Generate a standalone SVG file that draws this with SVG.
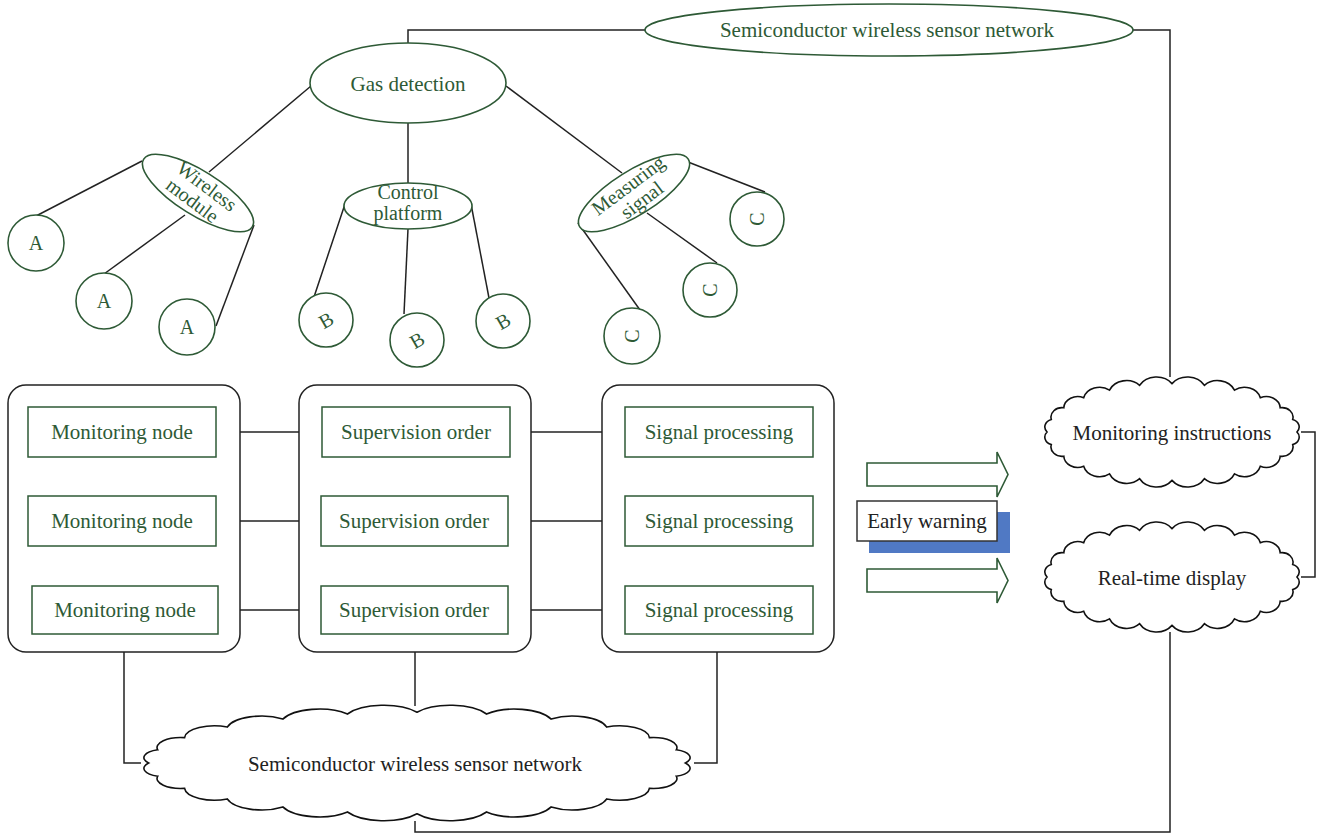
<svg xmlns="http://www.w3.org/2000/svg" xmlns:xlink="http://www.w3.org/1999/xlink" width="1327" height="838" viewBox="0 0 1327 838">
<style>
.g{fill:#fff;stroke:#2e5a36;stroke-width:1.6}
.gt{font-family:"Liberation Serif",serif;font-size:21px;fill:#2e5a36;text-anchor:middle}
.kt{font-family:"Liberation Serif",serif;font-size:21px;fill:#222;text-anchor:middle}
.ct{font-family:"Liberation Serif",serif;font-size:20px;fill:#2e5a36;text-anchor:middle}
.lt{font-family:"Liberation Serif",serif;font-size:20px;fill:#2e5a36;text-anchor:middle}
.ln{fill:none;stroke:#222;stroke-width:1.5}
.box{fill:#fff;stroke:#2e5a36;stroke-width:1.5}
.cont{fill:#fff;stroke:#222;stroke-width:1.5}
.cl{fill:#fff;stroke:#111;stroke-width:1.6;vector-effect:non-scaling-stroke}
</style>
<defs>
<path id="cloud" class="cl" d="M88,0 A6.5,6.5 0 0 1 85,10.4 A7.8,7.8 0 0 1 76.2,20 A9.8,9.8 0 0 1 62.2,28.3 A11.6,11.6 0 0 1 44,34.6 A13,13 0 0 1 22.8,38.6 A13.7,13.7 0 0 1 0,40 A13.7,13.7 0 0 1 -22.8,38.6 A13,13 0 0 1 -44,34.6 A11.6,11.6 0 0 1 -62.2,28.3 A9.8,9.8 0 0 1 -76.2,20 A7.8,7.8 0 0 1 -85,10.4 A6.5,6.5 0 0 1 -88,0 A6.5,6.5 0 0 1 -85,-10.4 A7.8,7.8 0 0 1 -76.2,-20 A9.8,9.8 0 0 1 -62.2,-28.3 A11.6,11.6 0 0 1 -44,-34.6 A13,13 0 0 1 -22.8,-38.6 A13.7,13.7 0 0 1 0,-40 A13.7,13.7 0 0 1 22.8,-38.6 A13,13 0 0 1 44,-34.6 A11.6,11.6 0 0 1 62.2,-28.3 A9.8,9.8 0 0 1 76.2,-20 A7.8,7.8 0 0 1 85,-10.4 A6.5,6.5 0 0 1 88,0 Z"/>
</defs>
<rect width="1327" height="838" fill="#fff"/>

<g id="connectors" class="ln">
<polyline points="646,30 408,30 408,44"/>
<polyline points="1133,30 1170,30 1170,377"/>
<line x1="311" y1="86" x2="209" y2="172"/>
<line x1="408" y1="123" x2="408" y2="184"/>
<line x1="506" y1="86" x2="622" y2="173"/>
<line x1="142" y1="161" x2="36" y2="216"/>
<line x1="185" y1="215" x2="104" y2="274"/>
<line x1="254" y1="225" x2="216" y2="326"/>
<line x1="345" y1="204" x2="314" y2="297"/>
<line x1="408" y1="229" x2="404" y2="314"/>
<line x1="471" y1="204" x2="489" y2="298"/>
<line x1="688" y1="162" x2="765" y2="192"/>
<line x1="647" y1="213" x2="717" y2="263"/>
<line x1="578" y1="223" x2="640" y2="310"/>
<line x1="216" y1="432" x2="322" y2="432"/>
<line x1="510" y1="432" x2="625" y2="432"/>
<line x1="216" y1="521" x2="322" y2="521"/>
<line x1="508" y1="521" x2="625" y2="521"/>
<line x1="218" y1="610" x2="322" y2="610"/>
<line x1="508" y1="610" x2="625" y2="610"/>
<polyline points="124,652 124,763 141,763"/>
<line x1="415" y1="652" x2="415" y2="706"/>
<polyline points="717,652 717,763 694,763"/>
<polyline points="415,821 415,832 1170,832 1170,632"/>
<polyline points="1301,432 1315,432 1315,577 1301,577"/>
</g>

<g id="top-network">
<ellipse class="g" cx="889" cy="30" rx="244" ry="26"/>
<text class="gt" x="887" y="37" font-size="20">Semiconductor wireless sensor network</text>
</g>
<g id="gas-detection">
<ellipse class="g" cx="408" cy="83" rx="98" ry="40"/>
<text class="gt" x="408" y="91">Gas detection</text>
</g>
<g id="wireless-module">
<ellipse class="g" cx="0" cy="0" rx="64" ry="22" transform="translate(198,193) rotate(32)"/>
<g transform="translate(198,193) rotate(37)">
<text class="ct" x="3" y="-4">Wireless</text>
<text class="ct" x="0" y="16">module</text>
</g>
</g>
<g id="control-platform">
<ellipse class="g" cx="408" cy="206" rx="64" ry="23"/>
<text class="ct" x="408" y="199">Control</text>
<text class="ct" x="408" y="220">platform</text>
</g>
<g id="measuring-signal">
<ellipse class="g" cx="0" cy="0" rx="64" ry="22" transform="translate(634,193) rotate(-32)"/>
<g transform="translate(634,193) rotate(-37)">
<text class="ct" x="0" y="-3">Measuring</text>
<text class="ct" x="2" y="17">signal</text>
</g>
</g>

<g id="a1"><circle class="g" cx="36" cy="243" r="28"/><text class="lt" x="36" y="250">A</text></g>
<g id="a2"><circle class="g" cx="104" cy="301" r="28"/><text class="lt" x="104" y="308">A</text></g>
<g id="a3"><circle class="g" cx="187" cy="327" r="28"/><text class="lt" x="187" y="334">A</text></g>
<g id="b1"><circle class="g" cx="326" cy="320" r="27"/><text class="lt" transform="translate(326,320) rotate(-30)" x="0" y="7">B</text></g>
<g id="b2"><circle class="g" cx="417" cy="340" r="27"/><text class="lt" transform="translate(417,340) rotate(-30)" x="0" y="7">B</text></g>
<g id="b3"><circle class="g" cx="503" cy="321" r="27"/><text class="lt" transform="translate(503,321) rotate(-30)" x="0" y="7">B</text></g>
<g id="c1"><circle class="g" cx="632" cy="336" r="28"/><text class="lt" transform="translate(632,336) rotate(-90)" x="0" y="7">C</text></g>
<g id="c2"><circle class="g" cx="710" cy="290" r="27"/><text class="lt" transform="translate(710,290) rotate(-90)" x="0" y="7">C</text></g>
<g id="c3"><circle class="g" cx="757" cy="219" r="27"/><text class="lt" transform="translate(757,219) rotate(-90)" x="0" y="7">C</text></g>

<g id="container-monitoring">
<rect class="cont" x="8" y="385" width="232" height="267" rx="18"/>
<g id="mn1"><rect class="box" x="28" y="407" width="188" height="50"/><text class="gt" x="122" y="439">Monitoring node</text></g>
<g id="mn2"><rect class="box" x="28" y="496" width="188" height="50"/><text class="gt" x="122" y="528">Monitoring node</text></g>
<g id="mn3"><rect class="box" x="32" y="586" width="186" height="48"/><text class="gt" x="125" y="617">Monitoring node</text></g>
</g>
<g id="container-supervision">
<rect class="cont" x="299" y="385" width="232" height="267" rx="18"/>
<g id="so1"><rect class="box" x="322" y="407" width="188" height="50"/><text class="gt" x="416" y="439">Supervision order</text></g>
<g id="so2"><rect class="box" x="321" y="496" width="187" height="50"/><text class="gt" x="414" y="528">Supervision order</text></g>
<g id="so3"><rect class="box" x="321" y="586" width="187" height="48"/><text class="gt" x="414" y="617">Supervision order</text></g>
</g>
<g id="container-signal">
<rect class="cont" x="602" y="385" width="232" height="267" rx="18"/>
<g id="sp1"><rect class="box" x="625" y="407" width="188" height="50"/><text class="gt" x="719" y="439">Signal processing</text></g>
<g id="sp2"><rect class="box" x="625" y="496" width="188" height="50"/><text class="gt" x="719" y="528">Signal processing</text></g>
<g id="sp3"><rect class="box" x="625" y="586" width="188" height="48"/><text class="gt" x="719" y="617">Signal processing</text></g>
</g>

<g id="arrows">
<path class="g" d="M867,463 H997 V452 L1008,474.5 L997,497 V486 H867 Z"/>
<path class="g" d="M867,569 H997 V558 L1008,580.5 L997,603 V592 H867 Z"/>
</g>
<g id="early-warning">
<rect x="869" y="512" width="141" height="41" fill="#5079c4"/>
<rect x="857" y="501" width="140" height="40" fill="#fff" stroke="#333" stroke-width="1.5"/>
<text class="kt" x="927" y="528">Early warning</text>
</g>

<g id="bottom-network">
<use xlink:href="#cloud" href="#cloud" transform="translate(417,763) scale(3.05,1.27)"/>
<text class="kt" x="415" y="771">Semiconductor wireless sensor network</text>
</g>
<g id="monitoring-instructions">
<use xlink:href="#cloud" href="#cloud" transform="translate(1172,432) scale(1.42,1.21)"/>
<text class="kt" x="1172" y="440">Monitoring instructions</text>
</g>
<g id="real-time-display">
<use xlink:href="#cloud" href="#cloud" transform="translate(1172,577) scale(1.42,1.21)"/>
<text class="kt" x="1172" y="585">Real-time display</text>
</g>
</svg>
